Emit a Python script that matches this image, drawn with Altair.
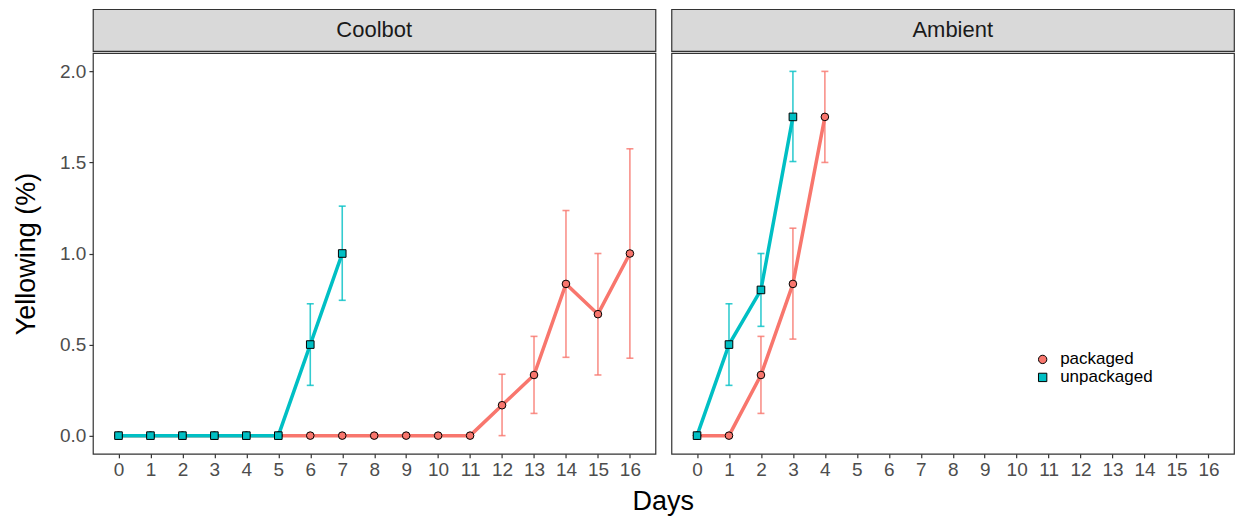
import altair as alt
import pandas as pd

# ---- data ----
treatments = ["packaged", "unpackaged"]
colors = ["#F8766D", "#00BFC4"]
outline = ["black", "black"]
shapes = ["circle", "square"]
day_ticks = [0, 1, 2, 3, 4, 5, 6, 7, 8, 9, 10, 11, 12, 13, 14, 15, 16]
y_ticks = [0.0, 0.5, 1.0, 1.5, 2.0]

coolbot_pack_day = [0, 1, 2, 3, 4, 5, 6, 7, 8, 9, 10, 11, 12, 13, 14, 15, 16]
coolbot_pack_mean = [0, 0, 0, 0, 0, 0, 0, 0, 0, 0, 0, 0, 0.167, 0.333, 0.833, 0.667, 1.0]
coolbot_pack_lo = [0, 0, 0, 0, 0, 0, 0, 0, 0, 0, 0, 0, 0.0, 0.122, 0.43, 0.333, 0.425]
coolbot_pack_hi = [0, 0, 0, 0, 0, 0, 0, 0, 0, 0, 0, 0, 0.337, 0.545, 1.236, 1.0, 1.575]

coolbot_unpack_day = [0, 1, 2, 3, 4, 5, 6, 7]
coolbot_unpack_mean = [0, 0, 0, 0, 0, 0, 0.5, 1.0]
coolbot_unpack_lo = [0, 0, 0, 0, 0, 0, 0.276, 0.743]
coolbot_unpack_hi = [0, 0, 0, 0, 0, 0, 0.724, 1.26]

ambient_pack_day = [0, 1, 2, 3, 4]
ambient_pack_mean = [0, 0, 0.333, 0.833, 1.75]
ambient_pack_lo = [0, 0, 0.122, 0.53, 1.5]
ambient_pack_hi = [0, 0, 0.545, 1.139, 2.0]

ambient_unpack_day = [0, 1, 2, 3]
ambient_unpack_mean = [0, 0.5, 0.8, 1.75]
ambient_unpack_lo = [0, 0.276, 0.6, 1.505]
ambient_unpack_hi = [0, 0.724, 1.0, 2.0]


def frame(cond, trt, day, mean, lo, hi):
    return pd.DataFrame({"condition": cond, "treatment": trt, "day": day,
                         "mean": mean, "lo": lo, "hi": hi})


df = pd.concat([
    frame("Coolbot", "packaged", coolbot_pack_day, coolbot_pack_mean, coolbot_pack_lo, coolbot_pack_hi),
    frame("Coolbot", "unpackaged", coolbot_unpack_day, coolbot_unpack_mean, coolbot_unpack_lo, coolbot_unpack_hi),
    frame("Ambient", "packaged", ambient_pack_day, ambient_pack_mean, ambient_pack_lo, ambient_pack_hi),
    frame("Ambient", "unpackaged", ambient_unpack_day, ambient_unpack_mean, ambient_unpack_lo, ambient_unpack_hi),
], ignore_index=True)

FONT = "Liberation Sans"
W = 563
H = 401
YDOM = [-0.1, 2.1]

color_scale = alt.Scale(domain=treatments, range=colors)
shape_scale = alt.Scale(domain=treatments, range=shapes)
stroke_scale = alt.Scale(domain=treatments, range=outline)

legend = alt.Legend(title=None, orient="none", legendX=363, legendY=342,
                    labelFontSize=17, labelColor="black", labelFont=FONT,
                    labelOffset=9,
                    symbolStrokeWidth=1,
                    symbolSize=70, rowPadding=0)


def panel(cond, show_y, with_legend):
    d = df[df["condition"] == cond]
    base = alt.Chart(d)
    x = alt.X("day:Q", scale=alt.Scale(domain=[-0.8, 16.8], nice=False, zero=False),
              axis=alt.Axis(values=day_ticks, title=None, format="d"))
    if show_y:
        yaxis = alt.Axis(values=y_ticks, format=".1f", title="Yellowing (%)",
                         titlePadding=19)
    else:
        yaxis = None
    yscale = alt.Scale(domain=YDOM, nice=False, zero=False)
    y = alt.Y("mean:Q", scale=yscale, axis=yaxis)
    col_nl = alt.Color("treatment:N", scale=color_scale, legend=None)
    lg = legend if with_legend else None

    line = base.mark_line(strokeWidth=3.5).encode(x=x, y=y, color=col_nl)
    err = base.transform_filter("datum.hi > datum.lo")
    rule = err.mark_rule(strokeWidth=1.6, opacity=0.8).encode(
        x=x, y=alt.Y("lo:Q", scale=yscale, axis=yaxis), y2="hi:Q", color=col_nl)
    cap_lo = err.mark_tick(orient="horizontal", size=7, thickness=1.6, opacity=0.8).encode(
        x=x, y=alt.Y("lo:Q", scale=yscale, axis=yaxis), color=col_nl)
    cap_hi = err.mark_tick(orient="horizontal", size=7, thickness=1.6, opacity=0.8).encode(
        x=x, y=alt.Y("hi:Q", scale=yscale, axis=yaxis), color=col_nl)
    pts = base.mark_point(filled=True, size=58, strokeWidth=1, opacity=1).encode(
        x=x, y=y,
        stroke=alt.Stroke("treatment:N", scale=stroke_scale, legend=lg),
        fill=alt.Fill("treatment:N", scale=color_scale, legend=lg),
        shape=alt.Shape("treatment:N", scale=shape_scale, legend=lg))
    plot = alt.layer(line, rule, cap_lo, cap_hi, pts).properties(width=W, height=H)

    strip = alt.Chart(pd.DataFrame({"panel": [cond]})).mark_text(
        fontSize=22, color="#1A1A1A", font=FONT, baseline="middle", align="center"
    ).encode(text="panel:N", x=alt.value(W / 2), y=alt.value(21)).properties(
        width=W, height=42,
        view=alt.ViewBackground(fill="#D9D9D9", stroke="#333333", strokeWidth=1.2))
    return alt.vconcat(strip, plot, spacing=0)


chart = alt.hconcat(panel("Coolbot", True, False), panel("Ambient", False, True), spacing=14).properties(
    title=alt.TitleParams(text="Days", orient="bottom", anchor="middle", fontSize=27,
                          fontWeight="normal", font=FONT, color="black", offset=9, dx=40),
    padding={"left": 11, "top": 8, "right": 0, "bottom": 0},
    background="white",
).resolve_scale(
    fill="independent", shape="independent", stroke="independent"
).resolve_legend(
    fill="independent", shape="independent", stroke="independent"
).configure_axis(
    grid=False, domain=False, tickColor="#333333", tickSize=4, tickWidth=1.2,
    labelColor="#4D4D4D", labelFontSize=19, labelFont=FONT, labelPadding=3,
    titleFont=FONT, titleFontSize=27, titleFontWeight="normal", titleColor="black",
).configure_view(
    stroke="#333333", strokeWidth=1.2
)

chart.save("out.html", embed_options={"renderer": "svg", "actions": False})
